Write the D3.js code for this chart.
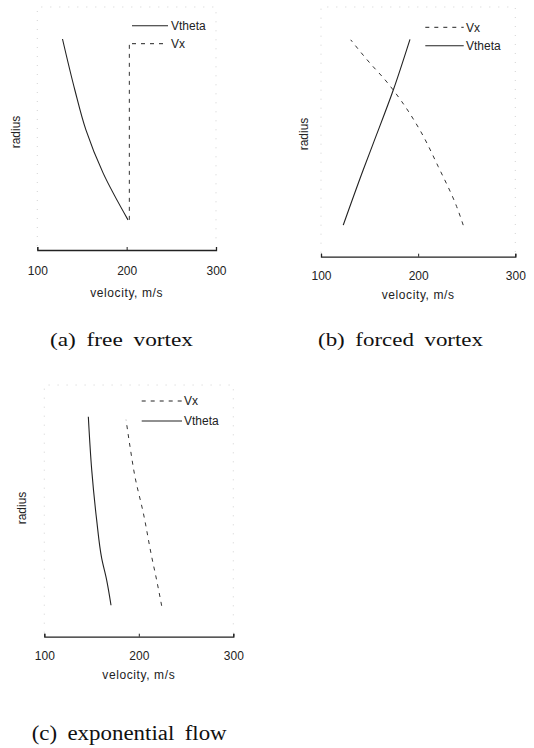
<!DOCTYPE html>
<html>
<head>
<meta charset="utf-8">
<script src="https://cdn.jsdelivr.net/npm/d3@7"></script>
<style>
  html, body { margin: 0; padding: 0; background: #fff; }
  svg { display: block; }
  text { font-family: "Liberation Sans", Arial, sans-serif; fill: #222; }
  .cap { font-family: "Liberation Serif", "Times New Roman", serif; fill: #111; }
</style>
</head>
<body>
<svg id="chart" width="534" height="748"></svg>
<script>
// ---------- data ----------
const xTicks = [100, 200, 300];
const xDomain = [100, 300];
const rDomain = [0.58, 1.0];

// (a) free vortex
const aThetaRadius = [0.640, 0.733, 0.819, 0.898, 1.000];
const aThetaValues = [201.5, 173.7, 154.4, 142.1, 128.2];
const aVxRadius    = [0.640, 0.990];
const aVxValues    = [203.0, 203.0];

// (b) forced vortex
const bThetaRadius = [0.641, 0.748, 0.799, 0.902, 1.000];
const bThetaValues = [122.9, 143.5, 153.8, 174.4, 191.6];
const bVxRadius    = [0.641, 0.677, 0.754, 0.825, 0.880, 0.922, 0.954, 0.999];
const bVxValues    = [246.4, 239.6, 220.7, 201.7, 183.0, 165.8, 150.4, 130.6];

// (c) exponential flow
const cThetaRadius = [0.640, 0.688, 0.730, 0.803, 0.898, 1.000];
const cThetaValues = [170.6, 166.0, 160.7, 155.4, 150.2, 146.6];
const cVxRadius    = [0.639, 0.688, 0.733, 0.816, 0.885, 0.943, 0.994];
const cVxValues    = [224.2, 218.9, 213.6, 204.8, 196.0, 190.7, 186.5];

const seriesNames = ["Vtheta", "Vx"];
const captions = ["(a) free vortex", "(b) forced vortex", "(c) exponential flow"];
const xLabel = "velocity, m/s";
const yLabel = "radius";

// ---------- layout ----------
const panels = [
  { x0: 37.3, x1: 216, axisY: 250, topY: 39, tickPad: 16, xlabY: 293, ylab: [15.7, 132],
    theta: [aThetaRadius, aThetaValues], vx: [aVxRadius, aVxValues],
    legend: { x0: 132, x1: 168, tx: 171, order: ["Vtheta", "Vx"], y: [25.7, 43.7] },
    frameTop: 7,
    cap: { x: 50, w: 143, y: 345.5, size: 19, text: captions[0] } },
  { x0: 321, x1: 515.3, axisY: 256.7, topY: 39.3, tickPad: 15, xlabY: 295, ylab: [303.7, 134],
    theta: [bThetaRadius, bThetaValues], vx: [bVxRadius, bVxValues],
    legend: { x0: 425.3, x1: 463.7, tx: 466, order: ["Vx", "Vtheta"], y: [27.3, 45.7] },
    frameTop: 7,
    cap: { x: 318, w: 165, y: 345.5, size: 19, text: captions[1] } },
  { x0: 44.3, x1: 233.3, axisY: 636.7, topY: 416.7, tickPad: 15, xlabY: 675, ylab: [21.7, 508],
    theta: [cThetaRadius, cThetaValues], vx: [cVxRadius, cVxValues],
    legend: { x0: 141.7, x1: 182, tx: 184, order: ["Vx", "Vtheta"], y: [401, 421] },
    frameTop: 385,
    cap: { x: 31.7, w: 195, y: 740, size: 20, text: captions[2] } }
];

const svg = d3.select("#chart");
const dash = "4,5";

panels.forEach(p => {
  const x = d3.scaleLinear().domain(xDomain).range([p.x0, p.x1]);
  const y = d3.scaleLinear().domain(rDomain).range([p.axisY, p.topY]);
  const g = svg.append("g");

  // faint dotted frame (scan residue of the plot box)
  g.append("path")
    .attr("d", `M${p.x0},${p.axisY - 4}V${p.frameTop}H${p.x1}V${p.axisY - 4}`)
    .attr("fill", "none").attr("stroke", "#c8c8c8").attr("stroke-width", 0.8)
    .attr("stroke-dasharray", "1,8");

  // x axis
  const ax = d3.axisBottom(x).tickValues(xTicks).tickSizeInner(-3).tickSizeOuter(-3)
    .tickPadding(p.tickPad).tickFormat(d3.format("d"));
  const axg = g.append("g").attr("transform", `translate(0,${p.axisY})`).call(ax);
  axg.select(".domain").attr("stroke", "#222").attr("stroke-width", 1.3);
  axg.selectAll(".tick line").attr("stroke", "#222").attr("stroke-width", 1);
  axg.selectAll(".tick text").attr("font-size", 12)
    .attr("font-family", "Liberation Sans, Arial, sans-serif").attr("fill", "#222");

  // axis titles
  g.append("text").attr("x", (p.x0 + p.x1) / 2).attr("y", p.xlabY)
    .attr("dy", "0.35em").attr("text-anchor", "middle").attr("font-size", 12)
    .attr("letter-spacing", 0.6).text(xLabel);
  g.append("text").attr("transform", `translate(${p.ylab[0]},${p.ylab[1]}) rotate(-90)`)
    .attr("dy", "0.35em").attr("text-anchor", "middle").attr("font-size", 12).text(yLabel);

  // lines
  const line = d3.line().curve(d3.curveMonotoneY).x(d => x(d[1])).y(d => y(d[0]));
  const thetaPts = d3.zip(p.theta[0], p.theta[1]);
  const vxPts = d3.zip(p.vx[0], p.vx[1]);
  g.append("path").datum(thetaPts).attr("d", line)
    .attr("fill", "none").attr("stroke", "#222").attr("stroke-width", 1.1);
  g.append("path").datum(vxPts).attr("d", line)
    .attr("fill", "none").attr("stroke", "#333").attr("stroke-width", 1)
    .attr("stroke-dasharray", dash);

  // legend
  p.legend.order.forEach((name, i) => {
    const ly = p.legend.y[i];
    g.append("line").attr("x1", p.legend.x0).attr("x2", p.legend.x1)
      .attr("y1", ly).attr("y2", ly).attr("stroke", "#222")
      .attr("stroke-width", name === "Vx" ? 1 : 1.1)
      .attr("stroke-dasharray", name === "Vx" ? dash : null);
    g.append("text").attr("x", p.legend.tx).attr("y", ly).attr("dy", "0.35em")
      .attr("font-size", 12).text(name);
  });

  // caption: glyphs stretched to the wide serif of the original
  svg.append("text").attr("class", "cap")
    .attr("x", p.cap.x).attr("y", p.cap.y)
    .attr("font-size", p.cap.size)
    .attr("word-spacing", 4)
    .attr("textLength", p.cap.w).attr("lengthAdjust", "spacingAndGlyphs")
    .text(p.cap.text);
});
</script>
</body>
</html>
